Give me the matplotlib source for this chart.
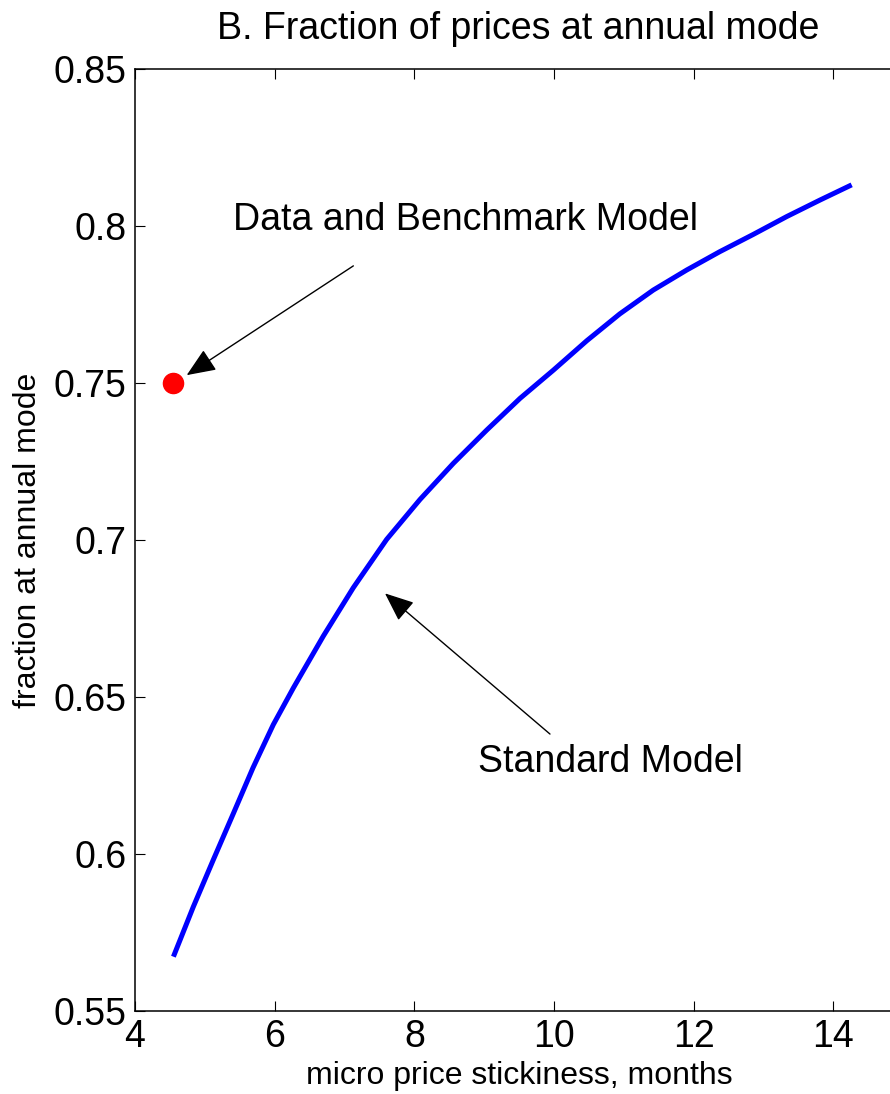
import numpy as np
import matplotlib
matplotlib.use("Agg")
import matplotlib.pyplot as plt
from matplotlib.ticker import FormatStrFormatter

# --- Data ---
stickiness = [4.55, 4.835, 5.12, 5.41, 5.69, 5.98, 6.27, 6.696, 7.125, 7.603,
              8.08, 8.557, 9.035, 9.512, 9.99, 10.47, 10.94, 11.42, 11.90,
              12.37, 12.85, 13.33, 13.81, 14.26]
frac_mode = [0.5673, 0.5832, 0.5981, 0.6130, 0.6275, 0.6412, 0.6530, 0.6694,
             0.6848, 0.7002, 0.7129, 0.7244, 0.7350, 0.7451, 0.7541, 0.7635,
             0.7720, 0.7796, 0.7860, 0.7918, 0.7973, 0.8030, 0.8083, 0.8131]
data_x = [4.54]
data_y = [0.75]

xticks = [4, 6, 8, 10, 12, 14]
yticks = [0.55, 0.6, 0.65, 0.7, 0.75, 0.8, 0.85]

plt.rcParams['font.family'] = ['Liberation Sans', 'DejaVu Sans']

fig = plt.figure(figsize=(8.9, 10.94), dpi=100)
# axes runs slightly past the right edge, like the cropped original
ax = fig.add_axes([135 / 890, 83 / 1094, 768.35 / 890, 942 / 1094])

ax.plot(stickiness, frac_mode, color='#0000ff', lw=3.6,
        solid_capstyle='butt', solid_joinstyle='round')
ax.plot(data_x, data_y, 'o', color='#ff0000', ms=14.5, mec='#ff0000')

ax.set_xticks(xticks)
ax.set_yticks(yticks)
ax.set_xlim(4, 15)
ax.set_ylim(0.55, 0.85)
ax.yaxis.set_major_formatter(FormatStrFormatter('%g'))
ax.tick_params(direction='in', length=7.2, width=0.8, top=True, right=True,
               labelsize=27, pad=6)
for s in ax.spines.values():
    s.set_linewidth(1.1)

ax.set_xlabel('micro price stickiness, months', fontsize=23, labelpad=4)
ax.set_ylabel('fraction at annual mode', fontsize=23, labelpad=8)
fig.text(518 / 890, 1 - 29 / 1094, 'B. Fraction of prices at annual mode',
         fontsize=27, ha='center', va='center')

arrow = dict(arrowstyle='-|>,head_length=0.6,head_width=0.25', color='k',
             lw=1.0, mutation_scale=30, shrinkA=0, shrinkB=0)
ax.annotate('', xy=(4.740, 0.7525), xytext=(7.126, 0.7873), arrowprops=arrow)
ax.annotate('', xy=(7.579, 0.6830), xytext=(9.941, 0.6382), arrowprops=arrow)
ax.text(5.403, 0.7987, 'Data and Benchmark Model', fontsize=27,
        ha='left', va='baseline')
ax.text(8.91, 0.6261, 'Standard Model', fontsize=27, ha='left', va='baseline')

fig.savefig('out.png', dpi=100)
